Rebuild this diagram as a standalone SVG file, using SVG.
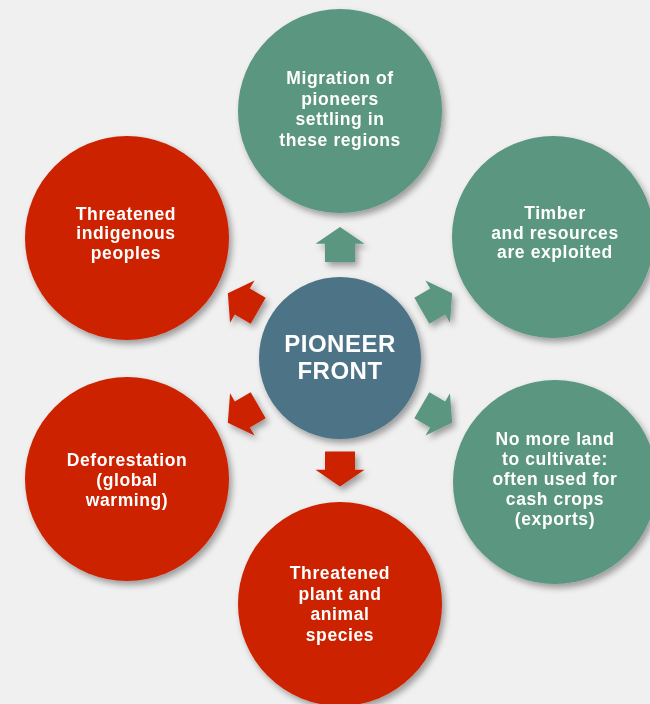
<svg xmlns="http://www.w3.org/2000/svg" width="650" height="704" viewBox="0 0 650 704">
<defs>
<filter id="sh" x="-20%" y="-20%" width="140%" height="140%">
<feDropShadow dx="3" dy="4" stdDeviation="3" flood-color="#000" flood-opacity="0.35"/>
</filter>
<path id="arr" d="M0,-17.5 L24.5,-0.8 L15,-0.8 L15,17.5 L-15,17.5 L-15,-0.8 L-24.5,-0.8 Z"/>
</defs>
<style>
.g{fill:#5A9680}
.r{fill:#CC2000}
.b{fill:#4D7386}
text{font-family:"Liberation Sans",Arial,sans-serif;font-weight:bold;fill:#fff;text-anchor:middle}
.t{font-size:17.5px;letter-spacing:0.6px}
.c{font-size:24px;letter-spacing:0.5px}
</style>
<rect width="650" height="704" fill="#F0F0F0"/>
<g id="connectors" filter="url(#sh)">
<use href="#arr" class="g" transform="translate(340,244.5)"/>
<use href="#arr" class="g" transform="translate(437,302) rotate(60)"/>
<use href="#arr" class="g" transform="translate(437,414) rotate(120)"/>
<use href="#arr" class="r" transform="translate(340,469) rotate(180)"/>
<use href="#arr" class="r" transform="translate(243,414) rotate(240)"/>
<use href="#arr" class="r" transform="translate(243,302) rotate(300)"/>
</g>
<g id="center">
<circle class="b" cx="340" cy="358" r="81" filter="url(#sh)"/>
<text class="c" x="340" y="352">PIONEER</text>
<text class="c" x="340" y="379">FRONT</text>
</g>
<g id="migration">
<circle class="g" cx="340" cy="111" r="102" filter="url(#sh)"/>
<text class="t" x="340" y="84">Migration of</text>
<text class="t" x="340" y="104.5">pioneers</text>
<text class="t" x="340" y="125">settling in</text>
<text class="t" x="340" y="145.5">these regions</text>
</g>
<g id="timber">
<circle class="g" cx="553" cy="237" r="101" filter="url(#sh)"/>
<text class="t" x="555" y="219">Timber</text>
<text class="t" x="555" y="238.5">and resources</text>
<text class="t" x="555" y="258">are exploited</text>
</g>
<g id="land">
<circle class="g" cx="555" cy="482" r="102" filter="url(#sh)"/>
<text class="t" x="555" y="445">No more land</text>
<text class="t" x="555" y="465">to cultivate:</text>
<text class="t" x="555" y="485">often used for</text>
<text class="t" x="555" y="505">cash crops</text>
<text class="t" x="555" y="525">(exports)</text>
</g>
<g id="species">
<circle class="r" cx="340" cy="604" r="102" filter="url(#sh)"/>
<text class="t" x="340" y="579">Threatened</text>
<text class="t" x="340" y="599.5">plant and</text>
<text class="t" x="340" y="620">animal</text>
<text class="t" x="340" y="640.5">species</text>
</g>
<g id="deforestation">
<circle class="r" cx="127" cy="479" r="102" filter="url(#sh)"/>
<text class="t" x="127" y="466">Deforestation</text>
<text class="t" x="127" y="486">(global</text>
<text class="t" x="127" y="506">warming)</text>
</g>
<g id="indigenous">
<circle class="r" cx="127" cy="238" r="102" filter="url(#sh)"/>
<text class="t" x="126" y="220">Threatened</text>
<text class="t" x="126" y="239">indigenous</text>
<text class="t" x="126" y="258.5">peoples</text>
</g>
</svg>
